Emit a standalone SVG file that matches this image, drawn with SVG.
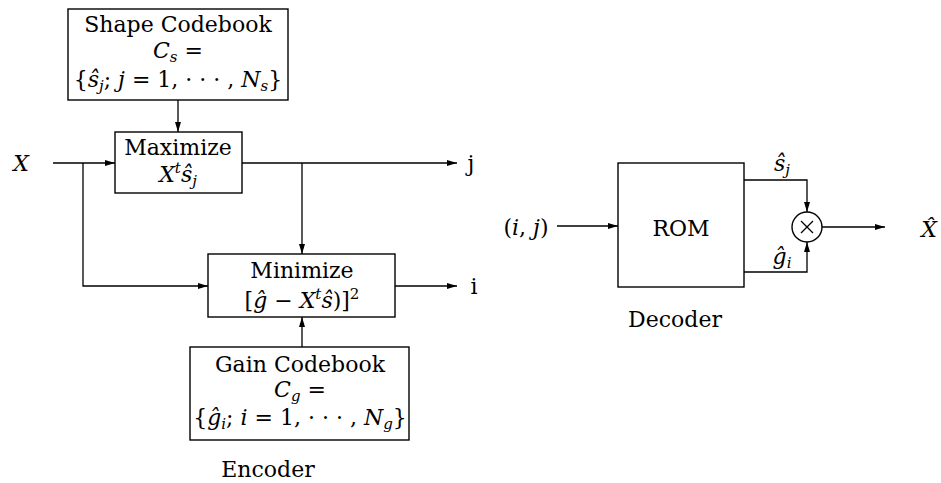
<svg xmlns="http://www.w3.org/2000/svg" width="941" height="483" viewBox="0 0 941 483">
<style>
text{font-family:"DejaVu Serif",serif;font-size:22px;fill:#000;text-anchor:middle}
.i{font-style:italic}
.box{fill:none;stroke:#000;stroke-width:1.4}
.ln{fill:none;stroke:#000;stroke-width:1.3}
.sb{font-size:15px}
</style>
<defs>
<marker id="ah" viewBox="0 0 10 6" refX="10" refY="3" markerWidth="10" markerHeight="6" markerUnits="userSpaceOnUse" orient="auto">
<path d="M0,0 L10,3 L0,6 z" fill="#000"/>
</marker>
</defs>
<rect width="941" height="483" fill="#fff"/>
<g id="connectors">
<path class="ln" d="M178,100 V132" marker-end="url(#ah)"/>
<path class="ln" d="M53,163 H115" marker-end="url(#ah)"/>
<path class="ln" d="M83,163 V286 H208" marker-end="url(#ah)"/>
<path class="ln" d="M242,163 H457" marker-end="url(#ah)"/>
<path class="ln" d="M302,163 V254" marker-end="url(#ah)"/>
<path class="ln" d="M395,286 H457" marker-end="url(#ah)"/>
<path class="ln" d="M302,347 V317" marker-end="url(#ah)"/>
<path class="ln" d="M557,226 H618" marker-end="url(#ah)"/>
<path class="ln" d="M744,180 H807 V212" marker-end="url(#ah)"/>
<path class="ln" d="M744,272 H807 V242" marker-end="url(#ah)"/>
<path class="ln" d="M822,227 H885" marker-end="url(#ah)"/>
</g>
<g id="shape-codebook">
<rect class="box" x="68" y="9" width="220" height="91"/>
<text x="178" y="32">Shape Codebook</text>
<text x="178" y="58"><tspan class="i">C</tspan><tspan class="i sb" dy="4">s</tspan><tspan dy="-4"> =</tspan></text>
<text x="178" y="87">{<tspan class="i">ŝ</tspan><tspan class="i sb" dy="4">j</tspan><tspan dy="-4">; </tspan><tspan class="i">j</tspan> = 1, · · · , <tspan class="i">N</tspan><tspan class="i sb" dy="4">s</tspan><tspan dy="-4">}</tspan></text>
</g>
<g id="maximize">
<rect class="box" x="115" y="132" width="127" height="61"/>
<text x="178" y="155">Maximize</text>
<text x="178" y="182"><tspan class="i">X</tspan><tspan class="i sb" dy="-9">t</tspan><tspan class="i" dy="9">ŝ</tspan><tspan class="i sb" dy="4">j</tspan></text>
</g>
<g id="minimize">
<rect class="box" x="208" y="254" width="187" height="63"/>
<text x="302" y="278">Minimize</text>
<text x="302" y="308">[<tspan class="i">ĝ</tspan> − <tspan class="i">X</tspan><tspan class="i sb" dy="-9">t</tspan><tspan class="i" dy="9">ŝ</tspan>)]<tspan class="sb" dy="-9">2</tspan></text>
</g>
<g id="gain-codebook">
<rect class="box" x="190" y="347" width="219" height="93"/>
<text x="300" y="372">Gain Codebook</text>
<text x="300" y="397"><tspan class="i">C</tspan><tspan class="i sb" dy="4">g</tspan><tspan dy="-4"> =</tspan></text>
<text x="300" y="425">{<tspan class="i">ĝ</tspan><tspan class="i sb" dy="4">i</tspan><tspan dy="-4">; </tspan><tspan class="i">i</tspan> = 1, · · · , <tspan class="i">N</tspan><tspan class="i sb" dy="4">g</tspan><tspan dy="-4">}</tspan></text>
</g>
<g id="labels">
<text class="i" x="21" y="171">X</text>
<text x="471" y="171">j</text>
<text x="474" y="294">i</text>
<text x="268" y="477">Encoder</text>
<text x="526" y="235">(<tspan class="i">i</tspan>, <tspan class="i">j</tspan>)</text>
<text class="i" x="782" y="171">ŝ<tspan class="sb" dy="4">j</tspan></text>
<text class="i" x="782" y="264">ĝ<tspan class="sb" dy="4">i</tspan></text>
<text class="i" x="929" y="237">X̂</text>
<text x="675" y="327">Decoder</text>
</g>
<g id="rom">
<rect class="box" x="618" y="163" width="126" height="124"/>
<text x="681" y="236">ROM</text>
</g>
<g id="multiplier">
<circle class="box" cx="807" cy="227" r="15"/>
<path class="ln" d="M801,221 L813,233 M813,221 L801,233"/>
</g>
</svg>
